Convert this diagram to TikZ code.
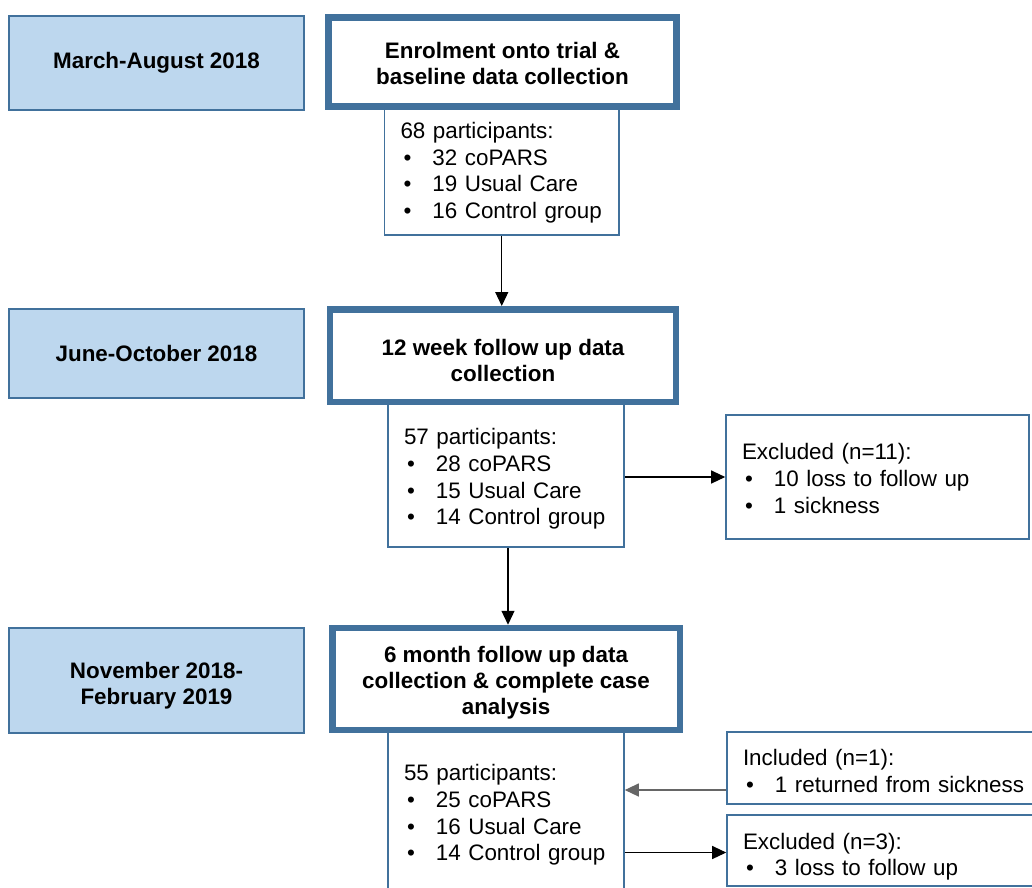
\documentclass[tikz,border=0pt]{standalone}
\usepackage{fontspec}
\setmainfont{Liberation Sans}
\usetikzlibrary{arrows.meta,calc}
\definecolor{edgeblue}{HTML}{41719C}
\definecolor{datefill}{HTML}{BDD7EE}
\definecolor{backarrow}{HTML}{666666}
% bullet item with a fixed tab to the item text
\newcommand{\bitem}[1]{\makebox[32pt][l]{\hspace{3pt}\textbullet}#1}
% invisible strut that pushes a text block down inside its box
\newcommand{\drop}[1]{\rule{0pt}{#1}}

\begin{document}
\begin{tikzpicture}[x=1pt,y=-1pt,
  datebox/.style={draw=edgeblue,fill=datefill,line width=1.8pt,minimum width=295pt,
    align=center,inner sep=0pt,font=\fontsize{22.4}{26}\selectfont\bfseries},
  stagebox/.style={draw=edgeblue,fill=white,line width=6.5pt,align=center,inner sep=0pt,
    font=\fontsize{22.4}{26}\selectfont\bfseries},
  listbox/.style={draw=edgeblue,fill=white,line width=1.6pt,align=left,
    inner xsep=16pt,inner ysep=0pt,font=\fontsize{22.4}{26.7}\selectfont},
  flow/.style={line width=1.2pt,-{Triangle[length=14pt,width=13pt]}}
]
\clip (0,0) rectangle (1032,887);
\fill[white] (0,0) rectangle (1032,887);

% time periods
\node[datebox,minimum height=94pt] (d1) at (156.5,63) {March-August 2018};
\node[datebox,minimum height=89pt] (d2) at (156.5,353.5) {June-October 2018};
\node[datebox,minimum height=105pt] (d3) at (156.5,680.5) {\drop{26.5pt}November 2018-\\February 2019};

% participant counts (drawn before the stage boxes, which overlap their tops)
\node[listbox,text width=202.5pt,minimum height=128.5pt] (p1) at (501.75,170.75)
  {\drop{20pt}68 participants:\\\bitem{32 coPARS}\\\bitem{19 Usual Care}\\\bitem{16 Control group}};
\node[listbox,text width=204pt,minimum height=145pt] (p2) at (506,474.5)
  {\drop{25pt}57 participants:\\\bitem{28 coPARS}\\\bitem{15 Usual Care}\\\bitem{14 Control group}};
\node[listbox,text width=204pt,minimum height=170pt] (p3) at (506,815)
  {55 participants:\\\bitem{25 coPARS}\\\bitem{16 Usual Care}\\\bitem{14 Control group}};

% trial stages
\node[stagebox,minimum width=348pt,minimum height=89pt] (m1) at (502.5,62)
  {\drop{20pt}Enrolment onto trial \&\\baseline data collection};
\node[stagebox,minimum width=346pt,minimum height=92.5pt] (m2) at (503,355.5)
  {\drop{26.5pt}12 week follow up data\\collection};
\node[stagebox,minimum width=347.5pt,minimum height=102pt] (m3) at (506,679)
  {\drop{24.5pt}6 month follow up data\\collection \& complete case\\analysis};

% exclusions and inclusions
\node[listbox,text width=271pt,minimum height=124pt] (x1) at (877.5,477)
  {\drop{19pt}Excluded (n=11):\\\bitem{10 loss to follow up}\\\bitem{1 sickness}};
\node[listbox,text width=282pt,minimum height=72pt] (inc) at (884,768)
  {\drop{22pt}Included (n=1):\\\bitem{1 returned from sickness}};
\node[listbox,text width=282pt,minimum height=71.5pt] (x2) at (884,850.5)
  {\drop{28.5pt}Excluded (n=3):\\\bitem{3 loss to follow up}};

% connectors
\draw[flow] (p1.south) -- (p1.south |- m2.north);
\draw[flow] (x1.west -| p2.east) -- (x1.west);
\coordinate (a3) at ($(p2.south)+(2,0)$);
\draw[flow] (a3) -- (a3 |- m3.north);
\coordinate (ia) at ($(inc.west)+(0,22)$);
\draw[flow,color=backarrow] (ia) -- (ia -| p3.east);
\coordinate (xa) at ($(x2.west)+(0,2)$);
\draw[flow] (xa -| p3.east) -- (xa);
\end{tikzpicture}
\end{document}
